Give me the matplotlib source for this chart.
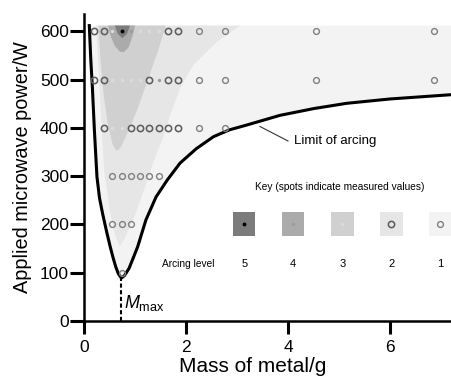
import matplotlib
matplotlib.use("Agg")
import matplotlib.pyplot as plt
from matplotlib.patches import Polygon, Rectangle

plt.rcParams["font.family"] = ["Liberation Sans", "DejaVu Sans"]
plt.rcParams["mathtext.fontset"] = "custom"
plt.rcParams["mathtext.rm"] = "Liberation Sans"
plt.rcParams["mathtext.it"] = "Liberation Sans:italic"

# ── data ────────────────────────────────────────────────────────────
X_MAX = 7.22
TOP = 612          # top of the measured (shaded) region, W

# limit of arcing (mass g, power W)
limit_m = [0.10, 0.13, 0.16, 0.20, 0.25, 0.30, 0.36, 0.44, 0.51, 0.57, 0.62,
           0.67, 0.73, 0.79, 0.88, 0.96, 1.05, 1.21, 1.41, 1.63, 1.88, 2.20,
           2.54, 2.85, 3.19, 3.84, 4.50, 5.15, 6.00, 7.22]
limit_p = [612, 540, 485, 395, 299, 255, 223, 185, 154, 130, 112,
           98, 89, 94, 109, 130, 154, 209, 257, 292, 327, 357,
           382, 396, 406, 426, 440, 451, 460, 469]
m_max = 0.73
p_min = 89

# contour outlines of arcing levels 2..5 (level 1 = whole region under TOP)
lvl2_m = [0.23, 3.06, 2.60, 2.14, 1.88, 1.69, 1.55, 1.37, 1.20, 1.00, 0.80,
          0.70, 0.60, 0.50, 0.42, 0.39, 0.33, 0.29, 0.25]
lvl2_p = [612, 612, 578, 530, 482, 427, 380, 333, 280, 220, 172,
          155, 180, 230, 290, 312, 420, 510, 580]
lvl3_m = [0.25, 1.60, 1.45, 1.25, 1.05, 0.85, 0.72, 0.64, 0.56, 0.46, 0.38,
          0.32, 0.28]
lvl3_p = [612, 612, 560, 500, 440, 390, 360, 352, 365, 410, 470, 540, 612]
lvl4_m = [0.47, 0.52, 0.60, 0.70, 0.78, 0.87, 0.95, 1.00]
lvl4_p = [612, 590, 570, 558, 557, 567, 590, 612]
lvl5_m = [0.60, 0.66, 0.75, 0.84, 0.90]
lvl5_p = [612, 595, 586, 595, 612]

# measured points: (mass, power, arcing level)
row_m = [0.20, 0.38, 0.55, 0.74, 0.92, 1.10, 1.28, 1.46, 1.64, 1.84, 2.26,
         2.76, 4.56, 6.87]
pts_600 = [2, 2, 3, 5, 4, 3, 3, 3, 2, 2, 1, 1, 1, 1]
pts_500 = [2, 2, 3, 3, 3, 3, 2, 4, 2, 2, 1, 1, 1, 1]
pts_400 = [None, 2, 3, 3, 2, 2, 2, 2, 2, 2, 1, 1, None, None]
pts_300 = [None, None, 1, 1, 1, 1, 1, 1, None, None, None, None, None, None]
pts_200 = [None, None, 1, 1, 1, None, None, None, None, None, None, None, None, None]
pts_100 = [None, None, None, 1, None, None, None, None, None, None, None, None, None, None]
powers = [600, 500, 400, 300, 200, 100]

levels = [5, 4, 3, 2, 1]
key_m = [3.14, 4.10, 5.07, 6.03, 6.98]
key_p = 201

# ── styles ──────────────────────────────────────────────────────────
fill = {1: "#f3f3f3", 2: "#e6e6e6", 3: "#d0d0d0", 4: "#ababab", 5: "#7c7c7c"}
mstyle = {
    1: dict(marker="o", ms=4.2, mfc="none", mec="#808080", mew=1.0),
    2: dict(marker="o", ms=4.5, mfc="none", mec="#5e5e5e", mew=1.15),
    3: dict(marker="o", ms=2.4, mfc="#dcdcdc", mec="none"),
    4: dict(marker="o", ms=2.4, mfc="#9c9c9c", mec="none"),
    5: dict(marker="o", ms=2.8, mfc="black", mec="none"),
}

fig = plt.figure(figsize=(4.52, 3.79), dpi=100)
ax = fig.add_axes([0.1615, 0.153, 0.8385, 0.81])
ax.set_xlim(-0.22, X_MAX)
ax.set_ylim(0, 636)

# shaded arcing levels
region1 = list(zip(limit_m, limit_p)) + [(X_MAX, TOP), (limit_m[0], TOP)]
ax.add_patch(Polygon(region1, closed=True, fc=fill[1], ec="none", zorder=1))
for lvl, mm, pp in [(2, lvl2_m, lvl2_p), (3, lvl3_m, lvl3_p),
                    (4, lvl4_m, lvl4_p), (5, lvl5_m, lvl5_p)]:
    ax.add_patch(Polygon(list(zip(mm, pp)), closed=True, fc=fill[lvl],
                         ec="none", zorder=1 + lvl * 0.1))

# limit curve and M_max
ax.plot(limit_m, limit_p, color="black", lw=2.2, zorder=4,
        solid_joinstyle="round")
ax.plot([m_max, m_max], [0, p_min], color="black", lw=1.5, ls=(0, (2, 1.2)),
        zorder=4)
ax.text(m_max + 0.06, 38, r"$M_{\mathrm{max}}$", fontsize=13, va="center",
        ha="left")

# measured points
for p, row in zip(powers, [pts_600, pts_500, pts_400, pts_300, pts_200, pts_100]):
    for m, lvl in zip(row_m, row):
        if lvl is None:
            continue
        ax.plot(m, p, ls="none", zorder=5, **mstyle[lvl])

# annotation
ax.plot([3.45, 4.0], [403, 373], color="#333333", lw=0.8, zorder=4)
ax.text(4.12, 372, "Limit of arcing", fontsize=9.5, va="center", ha="left")

# key
ax.text(5.02, 277, "Key (spots indicate measured values)", fontsize=7.3,
        ha="center", va="center")
ax.text(2.05, 118, "Arcing level", fontsize=7.3, ha="center", va="center")
for m, lvl in zip(key_m, levels):
    ax.add_patch(Rectangle((m - 0.22, key_p - 25), 0.44, 50, fc=fill[lvl],
                           ec="none", zorder=2))
    ax.plot(m, key_p, ls="none", zorder=5, **mstyle[lvl])
    ax.text(m, 118, str(lvl), fontsize=8, ha="center", va="center")

# axes
for s in ["top", "right"]:
    ax.spines[s].set_visible(False)
ax.spines["left"].set_position(("data", 0))
ax.spines["left"].set_linewidth(1.8)
ax.spines["bottom"].set_linewidth(1.8)
ax.spines["left"].set_zorder(6)
ax.set_xticks([0, 2, 4, 6])
ax.set_yticks([0, 100, 200, 300, 400, 500, 600])
ax.tick_params(axis="x", direction="out", length=9.5, width=2.2, pad=4,
               labelsize=12.5)
ax.tick_params(axis="y", direction="out", length=10, width=2.2, pad=1,
               labelsize=12.5)
ax.set_xlabel("Mass of metal/g", fontsize=15)
ax.xaxis.set_label_coords(0.475, -0.118)
ax.set_ylabel("Applied microwave power/W", fontsize=14.3)
ax.yaxis.set_label_coords(-0.108, 0.5)

fig.savefig("out.png", dpi=100)
